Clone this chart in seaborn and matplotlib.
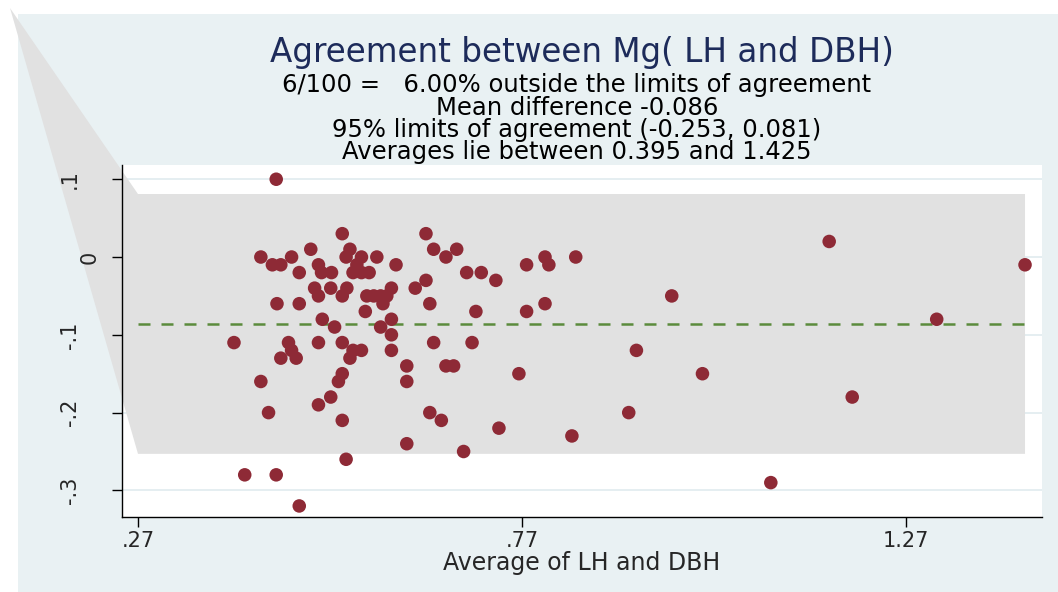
import numpy as np
import pandas as pd
import matplotlib
matplotlib.use("Agg")
import matplotlib.pyplot as plt
import matplotlib.transforms as mtransforms
from matplotlib.patches import Polygon, Rectangle
import seaborn as sns

# Bland-Altman data: average of LH and DBH vs difference
avg = [0.536, 0.645, 0.430, 0.470, 0.495, 0.546, 0.541, 0.561, 0.581, 0.655,
       0.685, 0.671, 0.445, 0.456, 0.505, 0.555, 0.606, 0.480, 0.509, 0.522,
       0.550, 0.561, 0.571, 0.698, 0.645, 0.500, 0.521, 0.542, 0.600, 0.631,
       0.505, 0.536, 0.568, 0.577, 0.586, 0.451, 0.480, 0.589, 0.650, 0.566,
       0.510, 0.600, 0.526, 0.586, 0.600, 0.395, 0.466, 0.505, 0.536, 0.655,
       0.705, 0.470, 0.550, 0.561, 0.600, 0.456, 0.476, 0.546, 0.620, 0.671,
       0.681, 0.536, 0.430, 0.531, 0.620, 0.521, 0.505, 0.440, 0.650, 0.536,
       0.665, 0.620, 0.694, 0.541, 0.409, 0.450, 0.480, 0.450, 0.717, 0.736,
       0.776, 0.800, 0.805, 0.840, 0.710, 0.776, 0.800, 0.965, 0.919, 0.766,
       1.005, 0.909, 0.740, 0.835, 1.170, 1.425, 1.310, 1.200, 1.094, 0.594]
diff = [0.03, 0.03, 0.00, 0.00, 0.01, 0.01, 0.00, 0.00, 0.00, 0.01,
        0.01, 0.00, -0.01, -0.01, -0.01, -0.01, -0.01, -0.02, -0.02, -0.02,
        -0.02, -0.02, -0.02, -0.02, -0.03, -0.04, -0.04, -0.04, -0.04, -0.04,
        -0.05, -0.05, -0.05, -0.05, -0.05, -0.06, -0.06, -0.06, -0.06, -0.07,
        -0.08, -0.08, -0.09, -0.09, -0.10, -0.11, -0.11, -0.11, -0.11, -0.11,
        -0.11, -0.12, -0.12, -0.12, -0.12, -0.13, -0.13, -0.13, -0.14, -0.14,
        -0.14, -0.15, -0.16, -0.16, -0.16, -0.18, -0.19, -0.20, -0.20, -0.21,
        -0.21, -0.24, -0.25, -0.26, -0.28, -0.28, -0.32, 0.10, -0.02, -0.03,
        -0.01, 0.00, -0.01, 0.00, -0.07, -0.07, -0.06, -0.05, -0.12, -0.15,
        -0.15, -0.20, -0.22, -0.23, 0.02, -0.01, -0.08, -0.18, -0.29, -0.05]

mean_diff = -0.086
lower_loa = -0.253
upper_loa = 0.081
band_start = 0.27

xticks = [0.27, 0.77, 1.27]
xtick_labels = [".27", ".77", "1.27"]
yticks = [0.1, 0.0, -0.1, -0.2, -0.3]
ytick_labels = [".1", "0", "-.1", "-.2", "-.3"]

title = "Agreement between Mg( LH and DBH)"
subtitle_lines = [
    "6/100 =   6.00% outside the limits of agreement",
    "Mean difference -0.086",
    "95% limits of agreement (-0.253, 0.081)",
    "Averages lie between 0.395 and 1.425",
]
xlabel = "Average of LH and DBH"

# colours
BG = "#e9f1f3"
BAND = "#e1e1e1"
GRID = "#e3edf0"
MARKER = "#8e2a36"
MEANLINE = "#5b8b3c"
NAVY = "#1d2b5a"

W, H = 1058, 592

sns.set_style("white")
plt.rcParams['font.family'] = ['DejaVu Sans']

df = pd.DataFrame({"avg": avg, "diff": diff})

fig = plt.figure(figsize=(W / 100, H / 100), dpi=100)
fig.patch.set_facecolor("white")
fig.add_artist(Rectangle((18 / W, 0), 1, 1 - 14 / H, transform=fig.transFigure,
                         facecolor=BG, edgecolor="none", zorder=-10))

ax = fig.add_axes([122 / W, 1 - 517 / H, 920 / W, 352 / H])
ax.set_facecolor("white")
ax.set_xlim(0.2492, 1.4471)
ax.set_ylim(-0.3342, 0.1183)

# light grid lines
for yv in yticks:
    ax.axhline(yv, color=GRID, lw=1.3, zorder=0.2)

# limits-of-agreement band (with the odd wedge reaching to the corner)
band_end = max(avg)
corners = np.array([[band_start, upper_loa], [band_end, upper_loa],
                    [band_end, lower_loa], [band_start, lower_loa]])
apex_disp = fig.transFigure.transform((10 / W, 1 - 8 / H))
apex = ax.transData.inverted().transform(apex_disp)
poly = Polygon(np.vstack([apex, corners]), closed=True, facecolor=BAND,
               edgecolor="none", zorder=0.6, clip_on=False)
ax.add_patch(poly)

# mean difference line
ax.plot([band_start, band_end], [mean_diff, mean_diff], color=MEANLINE,
        lw=1.8, dashes=(4.8, 4.4), zorder=2)

sns.scatterplot(data=df, x="avg", y="diff", color=MARKER, s=95,
                edgecolor="none", linewidth=0, ax=ax, zorder=4, clip_on=False)

for side in ["top", "right"]:
    ax.spines[side].set_visible(False)
for side in ["left", "bottom"]:
    ax.spines[side].set_color("black")
    ax.spines[side].set_linewidth(1.0)
ax.set_axisbelow(False)

ax.set_xticks(xticks)
ax.set_xticklabels(xtick_labels, fontsize=15)
ax.set_yticks(yticks)
ax.set_yticklabels(ytick_labels, fontsize=15, rotation=90, va="center")
ax.tick_params(axis="x", direction="out", length=7.2, width=1, color="black",
               pad=3, bottom=True)
ax.tick_params(axis="y", direction="out", length=7.2, width=1, color="black",
               pad=23, left=True)
# the "0" label sits closer to the axis in the original
for lab in ax.get_yticklabels():
    if lab.get_text() == "0":
        lab.set_transform(lab.get_transform() +
                          mtransforms.ScaledTranslation(0.2, 0, fig.dpi_scale_trans))

ax.set_xlabel(xlabel, fontsize=17, labelpad=0)
ax.set_ylabel("")

fig.text(582 / W, 1 - 62 / H, title, ha="center", va="baseline",
         fontsize=23.5, color=NAVY)
baselines = [92, 115, 137, 159]
for line, yb in zip(subtitle_lines, baselines):
    fig.text(577 / W, 1 - yb / H, line, ha="center", va="baseline",
             fontsize=17.5, color="black")

fig.savefig("out.png", dpi=100, facecolor=fig.get_facecolor())
